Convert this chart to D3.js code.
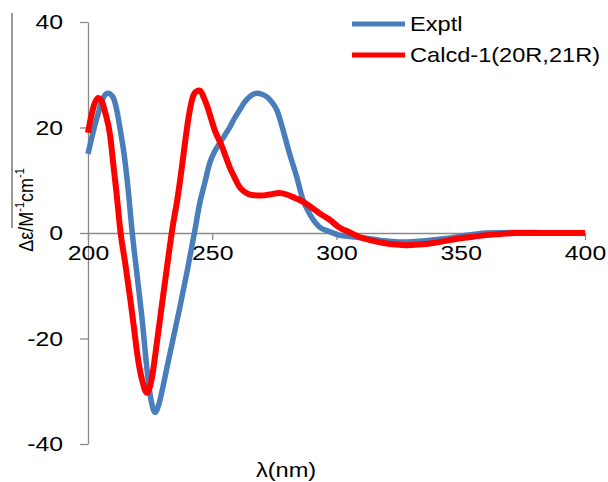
<!DOCTYPE html>
<html>
<head>
<meta charset="utf-8">
<script src="https://cdn.jsdelivr.net/npm/d3@7"></script>
<style>
  body { margin: 0; background: #fff; }
  svg { display: block; font-family: "Liberation Sans", Arial, sans-serif; }
  .axis path, .axis line { stroke: #8a8a8a; stroke-width: 1.3; }
  .axis text { fill: #000; font-size: 21px; }
</style>
</head>
<body>
<svg id="chart" width="608" height="482"></svg>
<script>
// values
const series_names = ['Exptl', 'Calcd-1(20R,21R)']
const series_colors = ['#4a7ebb', '#ff0000']

const exptl_nm = [200, 202, 204, 206, 208, 210, 211.5, 213, 214.5, 216, 217.7, 219.5, 221.7, 224, 225.5, 227,
  228.5, 230, 232, 234.5, 237, 240, 243, 245, 247, 249, 251, 253, 255, 257, 259, 261, 263, 265, 268, 270,
  272, 274, 276, 278.5, 281, 284, 286.5, 289, 293, 297, 301, 306, 312, 318, 325, 332, 339, 345, 350, 355,
  360, 370, 380, 390, 400]
const exptl_val = [15.0, 19, 22.5, 25.5, 26.5, 25.8, 23.5, 19.5, 15, 9, 0.5, -7, -16, -27, -32, -34,
  -32.5, -29.5, -25, -19.5, -14, -7, 0.5, 5.7, 9.5, 13.3, 15.5, 17, 18.5, 20, 21.8, 23.3, 24.8, 25.8, 26.5, 26.3,
  25.8, 24.8, 23.3, 19.5, 15.2, 10.6, 6.3, 3.8, 1.2, 0.3, -0.4, -0.7, -1, -1.4, -1.7, -1.6, -1.3, -1, -0.6, -0.3,
  0, 0.1, 0.1, 0, 0]

const calcd_nm = [200, 201, 202.5, 204, 205.5, 207, 209, 210, 211.5, 213, 215, 217, 218.5, 220, 222, 223.7,
  225.5, 227.8, 229.5, 231, 232.5, 234, 236, 237.5, 239, 240.5, 242, 243.5, 245, 246.5, 248, 251, 254, 257,
  259, 261, 263, 266, 270, 273, 277, 280, 282.5, 285, 288, 293, 297, 301, 305, 309, 314, 319, 324, 328, 333,
  339, 345, 350, 355, 360, 366, 372, 380, 390, 400]
const calcd_val = [19, 21.5, 24.3, 25.6, 25, 22.7, 18.2, 13.8, 7.5, 0.5, -5.8, -12.5, -18, -23.5, -28.3, -30.3,
  -28, -20.5, -14.5, -9.2, -4, 1, 6.5, 11.5, 17, 22, 25.5, 26.8, 27, 25.8, 24, 19.5, 16.3, 12.5,
  10.5, 8.7, 7.8, 7.2, 7.1, 7.3, 7.6, 7.3, 6.8, 6.3, 5.5, 3.8, 2.6, 1.1, 0.2, -0.7, -1.4, -1.9, -2.2, -2.3, -2.2,
  -1.9, -1.4, -1, -0.7, -0.4, -0.2, 0, 0, 0, 0]

const x_ticks = [200, 250, 300, 350, 400]
const y_ticks = [-40, -20, 0, 20, 40]

// text in the picture is stretched sideways a little
const stretch = 1.18
const plain = (d)=> String(d)

const svg = d3.select('#chart')
const x = d3.scaleLinear().domain([200, 400]).range([88, 585])
const y = d3.scaleLinear().domain([-40, 40]).range([444, 22])

// y axis
const y_axis = svg.append('g')
  .attr('class', 'axis')
  .attr('transform', `translate(${x(200)},0)`)
  .call(d3.axisLeft(y).tickValues(y_ticks).tickFormat(plain).tickSize(8).tickSizeOuter(0))
y_axis.selectAll('text')
  .attr('x', -25 / stretch)
  .attr('transform', `scale(${stretch},1)`)

// x axis crosses at zero
const x_axis = svg.append('g')
  .attr('class', 'axis')
  .attr('transform', `translate(0,${y(0)})`)
  .call(d3.axisBottom(x).tickValues(x_ticks).tickFormat(plain).tickSize(7).tickSizeOuter(0))
x_axis.selectAll('text')
  .attr('y', 12)
  .attr('transform', `scale(${stretch},1)`)

// curves
const line = d3.line()
  .x((d)=> x(d[0]))
  .y((d)=> y(d[1]))
  .curve(d3.curveMonotoneX)

const series = [
  d3.zip(exptl_nm, exptl_val),
  d3.zip(calcd_nm, calcd_val)
]

svg.selectAll('.curve')
  .data(series)
  .enter()
  .append('path')
  .attr('class', 'curve')
  .attr('d', line)
  .attr('fill', 'none')
  .attr('stroke', (d, i)=> series_colors[i])
  .attr('stroke-width', (d, i)=> i == 0 ? 5.5 : 6)
  .attr('stroke-linejoin', 'round')

// legend
const legend = svg.selectAll('.legend')
  .data(series_names)
  .enter()
  .append('g')
  .attr('class', 'legend')
  .attr('transform', (d, i)=> `translate(352,${24 + i * 31})`)

legend.append('line')
  .attr('x1', 0).attr('x2', 53)
  .attr('stroke', (d, i)=> series_colors[i])
  .attr('stroke-width', 5)

legend.append('text')
  .attr('x', 58 / stretch)
  .attr('y', 7)
  .attr('transform', `scale(${stretch},1)`)
  .attr('font-size', 20)
  .text((d)=> d)

// axis titles
svg.append('text')
  .attr('transform', `translate(286,477) scale(${stretch},1)`)
  .attr('text-anchor', 'middle')
  .attr('font-size', 20)
  .text('λ(nm)')

const y_title = svg.append('text')
  .attr('transform', 'translate(33,210) rotate(-90) scale(1,1.15)')
  .attr('text-anchor', 'middle')
  .attr('font-size', 18)
y_title.append('tspan').text('Δε/M')
y_title.append('tspan').attr('font-size', 11).attr('dy', -8).text('-1')
y_title.append('tspan').attr('dy', 8).text('cm')
y_title.append('tspan').attr('font-size', 11).attr('dy', -8).text('-1')

// stray rule left of the y title in the source figure
svg.append('line')
  .attr('x1', 12).attr('x2', 12)
  .attr('y1', 13).attr('y2', 228)
  .attr('stroke', '#333')
  .attr('stroke-width', 1)
</script>
</body>
</html>
